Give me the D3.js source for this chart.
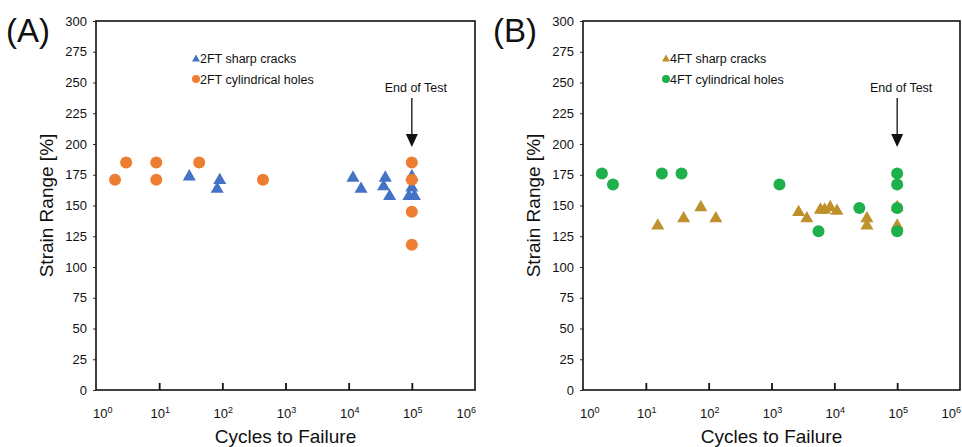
<!DOCTYPE html>
<html>
<head>
<meta charset="utf-8">
<script src="https://cdn.jsdelivr.net/npm/d3@7"></script>
<style>
  body { margin: 0; background: #fff; }
  text { font-family: "Liberation Sans", Arial, sans-serif; fill: #111; }
</style>
</head>
<body>
<div id="chart"></div>
<script>
// cycles to failure / strain range [%]
const cracks2N = [30, 91, 83, 11700, 15700, 38000, 35700, 44500, 100000, 100000, 90000, 110000];
const cracks2S = [175, 172, 165, 174, 165, 174, 167, 159, 175, 166, 159, 159];
const holes2N = [2, 3, 9, 9, 43, 440, 100000, 100000, 100000, 100000];
const holes2S = [171, 185, 185, 171, 185, 171, 185, 171, 145, 118];

const cracks4N = [15.5, 40, 75, 130, 2700, 3650, 6000, 7000, 8600, 11000, 33000, 33000, 100000, 100000];
const cracks4S = [135, 141, 150, 141, 146, 141, 148, 148, 150, 147, 141, 135, 150, 135];
const holes4N = [2, 3, 18, 37, 1340, 5600, 25000, 100000, 100000, 100000, 100000];
const holes4S = [176, 167, 176, 176, 167, 129, 148, 176, 167, 148, 129];

const yTicks = d3.range(0, 301, 25);
const xDecades = [0, 1, 2, 3, 4, 5, 6];
const endOfTest = 100000;

const panels = [
  { tag: '(A)', left: 96, right: 475, legX: 196,
    series: [
      { name: '2FT sharp cracks', n: cracks2N, s: cracks2S, shape: 'tri', color: '#4472C4' },
      { name: '2FT cylindrical holes', n: holes2N, s: holes2S, shape: 'circle', color: '#ED7D31' },
    ] },
  { tag: '(B)', left: 583, right: 960, legX: 666,
    series: [
      { name: '4FT sharp cracks', n: cracks4N, s: cracks4S, shape: 'tri', color: '#BE912C' },
      { name: '4FT cylindrical holes', n: holes4N, s: holes4S, shape: 'circle', color: '#1DB04B' },
    ] },
];

const plotTop = 21;
const plotBottom = 390;

// triangle centred on its bounding box, like the spreadsheet marker
const boxTriangle = {
  draw(ctx, size) {
    const w = Math.sqrt(size);
    const h = w * 0.87;
    ctx.moveTo(0, -h / 2);
    ctx.lineTo(w / 2, h / 2);
    ctx.lineTo(-w / 2, h / 2);
    ctx.closePath();
  },
};

const svg = d3.select('#chart')
  .append('svg')
  .attr('width', 962)
  .attr('height', 447);

panels.forEach((p) => {
  const x = d3.scaleLog().domain([1, 1e6]).range([p.left, p.right]);
  const y = d3.scaleLinear().domain([0, 300]).range([plotBottom, plotTop]);
  const g = svg.append('g');

  // y axis labels with small outside ticks
  g.append('g')
    .attr('transform', `translate(${p.left},0)`)
    .call(d3.axisLeft(y).tickValues(yTicks).tickSize(3).tickPadding(6).tickFormat(d3.format('d')))
    .call((a) => a.select('.domain').remove())
    .call((a) => a.selectAll('line').attr('stroke', '#333'))
    .call((a) => a.selectAll('text').attr('font-size', 13).attr('fill', '#111')
      .style('font-family', '"Liberation Sans", Arial, sans-serif'));

  // x ticks point into the plot
  g.append('g')
    .attr('transform', `translate(0,${plotBottom})`)
    .call(d3.axisBottom(x).tickValues([10, 100, 1e3, 1e4, 1e5]).tickSize(-7).tickFormat(''))
    .call((a) => a.select('.domain').remove())
    .call((a) => a.selectAll('line').attr('stroke', '#111').attr('stroke-width', 1.8));

  const last = xDecades[xDecades.length - 1];
  const xl = g.append('g').selectAll('text')
    .data(xDecades)
    .join('text')
    .attr('x', (d) => {
      const px = x(Math.pow(10, d));
      if (d === 0) return px - 3;
      if (d === last) return px + 1;
      return px + 1;
    })
    .attr('y', 418)
    .attr('text-anchor', (d) => (d === 0 ? 'start' : d === last ? 'end' : 'middle'))
    .attr('font-size', 13);
  xl.append('tspan').text('10');
  xl.append('tspan').attr('dy', -5).attr('font-size', 9).text((d) => d);

  // frame
  g.append('rect')
    .attr('x', p.left)
    .attr('y', plotTop)
    .attr('width', p.right - p.left)
    .attr('height', plotBottom - plotTop)
    .attr('fill', 'none')
    .attr('stroke', '#111')
    .attr('stroke-width', 1.6);

  g.append('text')
    .attr('x', (p.left + p.right) / 2)
    .attr('y', 443)
    .attr('text-anchor', 'middle')
    .attr('font-size', 19)
    .text('Cycles to Failure');

  g.append('text')
    .attr('transform', `translate(${p.left - 43},${(plotTop + plotBottom) / 2}) rotate(-90)`)
    .attr('text-anchor', 'middle')
    .attr('font-size', 19)
    .text('Strain Range [%]');

  g.append('text')
    .attr('x', p.left - 90)
    .attr('y', 42)
    .attr('font-size', 33)
    .text(p.tag);

  // markers
  p.series.forEach((s) => {
    const pts = s.n.map((n, i) => ({ n, s: s.s[i] }));
    if (s.shape === 'circle') {
      g.append('g').selectAll('circle')
        .data(pts)
        .join('circle')
        .attr('cx', (d) => x(d.n))
        .attr('cy', (d) => y(d.s))
        .attr('r', 6)
        .attr('fill', s.color);
    } else {
      g.append('g').selectAll('path')
        .data(pts)
        .join('path')
        .attr('transform', (d) => `translate(${x(d.n)},${y(d.s)})`)
        .attr('d', d3.symbol(boxTriangle, 170))
        .attr('fill', s.color);
    }
  });

  // legend
  const leg = g.append('g');
  p.series.forEach((s, i) => {
    const ly = 58 + i * 21;
    if (s.shape === 'circle') {
      leg.append('circle').attr('cx', p.legX).attr('cy', ly).attr('r', 4).attr('fill', s.color);
    } else {
      leg.append('path')
        .attr('transform', `translate(${p.legX},${ly})`)
        .attr('d', d3.symbol(boxTriangle, 64))
        .attr('fill', s.color);
    }
    leg.append('text')
      .attr('x', p.legX + 4)
      .attr('y', ly + 4.5)
      .attr('font-size', 12.5)
      .text(s.name);
  });

  // end of test arrow
  const ax = x(endOfTest);
  g.append('text')
    .attr('x', ax + 4)
    .attr('y', 92)
    .attr('text-anchor', 'middle')
    .attr('font-size', 12.5)
    .text('End of Test');
  g.append('line')
    .attr('x1', ax).attr('x2', ax)
    .attr('y1', 98).attr('y2', 136)
    .attr('stroke', '#111')
    .attr('stroke-width', 1.3);
  g.append('path')
    .attr('d', `M${ax - 6},${134}L${ax + 6},${134}L${ax},${147}Z`)
    .attr('fill', '#111');
});
</script>
</body>
</html>
